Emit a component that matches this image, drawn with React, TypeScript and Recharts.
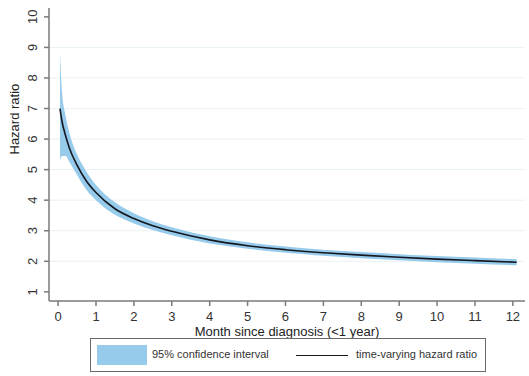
import {
  CartesianGrid,
  ComposedChart,
  Area,
  Line,
  XAxis,
  YAxis,
} from "recharts";

// months since diagnosis
const months = [
  0.05, 0.1, 0.2, 0.3, 0.5, 0.75, 1, 1.5, 2, 2.5, 3, 4, 5, 6, 7, 8, 9, 10, 11,
  12.1,
];
// time-varying hazard ratio
const hazard = [
  7.0, 6.6, 6.1, 5.7, 5.15, 4.62, 4.25, 3.72, 3.4, 3.16, 2.98, 2.7, 2.51, 2.38,
  2.28, 2.2, 2.13, 2.07, 2.02, 1.97,
];
// 95% confidence bounds
const ciLower = [
  5.3, 5.45, 5.45, 5.25, 4.82, 4.33, 4.0, 3.52, 3.24, 3.02, 2.85, 2.58, 2.41,
  2.28, 2.18, 2.1, 2.03, 1.97, 1.92, 1.87,
];
const ciUpper = [
  8.8, 7.6, 6.75, 6.2, 5.5, 4.93, 4.5, 3.93, 3.57, 3.31, 3.11, 2.82, 2.62, 2.48,
  2.38, 2.3, 2.23, 2.17, 2.12, 2.07,
];

const xTicks = [0, 1, 2, 3, 4, 5, 6, 7, 8, 9, 10, 11, 12];
const yTicks = [1, 2, 3, 4, 5, 6, 7, 8, 9, 10];
const gridValues = [2, 3, 4, 5, 6, 7, 8, 9];

const FONT = "'Liberation Sans', Arial, sans-serif";
const AXIS = "#7a7a7a";
const BAND = "#96cbeb";

const data = months.map((m, i) => ({
  month: m,
  hr: hazard[i],
  ci: [ciLower[i], ciUpper[i]],
}));

function YTick(props: any) {
  const { x, y, payload } = props;
  return (
    <text
      x={x}
      y={y}
      transform={`rotate(-90, ${x}, ${y})`}
      textAnchor="middle"
      fontSize={13}
      fontFamily={FONT}
      fill="#333"
    >
      {payload.value}
    </text>
  );
}

export default function App() {
  return (
    <div style={{ position: "absolute", left: 0, top: 0, width: 529, height: 376, background: "#fff" }}>
      <ComposedChart
        width={529}
        height={376}
        data={data}
        margin={{ top: 8, right: 4, left: 0, bottom: 0 }}
      >
        <CartesianGrid
          vertical={false}
          horizontalValues={gridValues}
          stroke="#e9f1f2"
          strokeWidth={1}
        />
        <XAxis
          dataKey="month"
          type="number"
          domain={[-0.24, 12.32]}
          ticks={xTicks}
          allowDataOverflow
          height={75}
          stroke={AXIS}
          strokeWidth={1.5}
          tickSize={5}
          tickMargin={6}
          tick={{ fontSize: 13, fontFamily: FONT, fill: "#333" }}
          label={{
            value: "Month since diagnosis (<1 year)",
            position: "insideTop",
            offset: 26,
            fontSize: 13,
            fontFamily: FONT,
            fill: "#222",
          }}
        />
        <YAxis
          type="number"
          domain={[0.7, 10.29]}
          ticks={yTicks}
          allowDataOverflow
          width={49}
          stroke={AXIS}
          strokeWidth={1.5}
          tickSize={5}
          tickMargin={7}
          tick={<YTick />}
          label={{
            value: "Hazard ratio",
            angle: -90,
            position: "insideLeft",
            offset: 14,
            fontSize: 13,
            fontFamily: FONT,
            fill: "#222",
          }}
        />
        <Area
          dataKey="ci"
          type="monotone"
          fill={BAND}
          fillOpacity={1}
          stroke="none"
          isAnimationActive={false}
        />
        <Line
          dataKey="hr"
          type="monotone"
          stroke="#151820"
          strokeWidth={1.6}
          dot={false}
          isAnimationActive={false}
        />
      </ComposedChart>
      <div
        style={{
          position: "absolute",
          left: 90,
          top: 338,
          width: 394,
          height: 32,
          border: "1px solid #6a6a6a",
          fontFamily: FONT,
          fontSize: 11,
          color: "#333",
        }}
      >
        <div style={{ position: "absolute", left: 6, top: 6, width: 50, height: 20, background: BAND }} />
        <div style={{ position: "absolute", left: 61, top: 9, lineHeight: "13px", whiteSpace: "nowrap" }}>
          95% confidence interval
        </div>
        <div style={{ position: "absolute", left: 205, top: 16, width: 52, height: 0, borderTop: "1.5px solid #151820" }} />
        <div style={{ position: "absolute", left: 265, top: 9, lineHeight: "13px", whiteSpace: "nowrap" }}>
          time-varying hazard ratio
        </div>
      </div>
    </div>
  );
}
